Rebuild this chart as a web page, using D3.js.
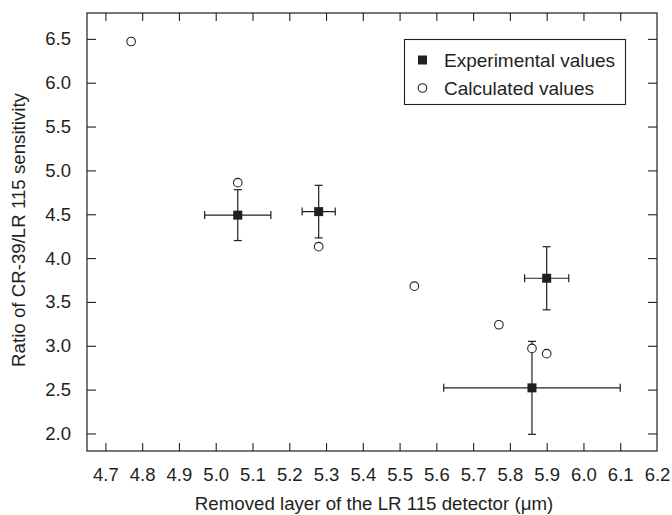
<!DOCTYPE html>
<html><head><meta charset="utf-8">
<script src="https://cdn.jsdelivr.net/npm/d3@7/dist/d3.min.js"></script>
<style>body{margin:0;background:#fff}svg{display:block}text{font-family:"Liberation Sans",Arial,sans-serif;fill:#231f20}</style>
</head><body><svg id="c" width="672" height="515"></svg>
<script>
const expX = [5.06, 5.28, 5.90, 5.86];
const expY = [4.49, 4.53, 3.77, 2.52];
const expXErr = [0.09, 0.045, 0.06, 0.24];
const expYErr = [0.29, 0.30, 0.36, 0.53];
const calcX = [4.77, 5.06, 5.28, 5.54, 5.77, 5.86, 5.90];
const calcY = [6.47, 4.86, 4.13, 3.68, 3.24, 2.97, 2.91];
const xTicks = [4.7,4.8,4.9,5.0,5.1,5.2,5.3,5.4,5.5,5.6,5.7,5.8,5.9,6.0,6.1,6.2];
const yTicks = [2.0,2.5,3.0,3.5,4.0,4.5,5.0,5.5,6.0,6.5];
const legendLabels = ["Experimental values", "Calculated values"];

const L=87,R=657,T=13,B=451;
const svg=d3.select("#c");
const x=d3.scaleLinear().domain([4.65,6.2]).range([L,R]);
const y=d3.scaleLinear().domain([1.8,6.795]).range([B,T]);
const ink="#231f20";

svg.append("rect").attr("x",L).attr("y",T).attr("width",R-L).attr("height",B-T)
  .attr("fill","none").attr("stroke",ink).attr("stroke-width",1.2);

const fmt=d3.format(".1f");
const gx=svg.append("g").attr("transform",`translate(0,${B})`)
  .call(d3.axisBottom(x).tickValues(xTicks).tickFormat(fmt).tickSizeInner(-8).tickSizeOuter(0).tickPadding(17));
const gxt=svg.append("g").attr("transform",`translate(0,${T})`)
  .call(d3.axisTop(x).tickValues(xTicks.filter(d=>d<6.2)).tickFormat("").tickSizeInner(-8).tickSizeOuter(0));
const gy=svg.append("g").attr("transform",`translate(${L},0)`)
  .call(d3.axisLeft(y).tickValues(yTicks).tickFormat(fmt).tickSizeInner(-9).tickSizeOuter(0).tickPadding(16));
const gyr=svg.append("g").attr("transform",`translate(${R},0)`)
  .call(d3.axisRight(y).tickValues(yTicks).tickFormat("").tickSizeInner(-9).tickSizeOuter(0));
[gx,gxt,gy,gyr].forEach(g=>{
  g.select(".domain").remove();
  g.selectAll(".tick line").attr("stroke",ink).attr("stroke-width",1.1);
  g.selectAll("text").attr("font-size",18.5).attr("fill",ink).attr("font-family","Liberation Sans, Arial, sans-serif");
});
gx.selectAll(".tick").filter(d=>d>6.15).select("line").remove();

svg.append("text").attr("x",374).attr("y",510).attr("text-anchor","middle").attr("font-size",18.7)
  .text("Removed layer of the LR 115 detector (\u03bcm)");
svg.append("text").attr("transform",`translate(25,230) rotate(-90)`).attr("text-anchor","middle").attr("font-size",18.7)
  .text("Ratio of CR-39/LR 115 sensitivity");

const eb=svg.append("g").attr("stroke",ink).attr("stroke-width",1.2).attr("fill","none");
const cap=4;
expX.forEach((xv,i)=>{
  const yv=expY[i], dx=expXErr[i], dy=expYErr[i];
  eb.append("line").attr("x1",x(xv-dx)).attr("x2",x(xv+dx)).attr("y1",y(yv)).attr("y2",y(yv));
  eb.append("line").attr("x1",x(xv-dx)).attr("x2",x(xv-dx)).attr("y1",y(yv)-cap).attr("y2",y(yv)+cap);
  eb.append("line").attr("x1",x(xv+dx)).attr("x2",x(xv+dx)).attr("y1",y(yv)-cap).attr("y2",y(yv)+cap);
  eb.append("line").attr("x1",x(xv)).attr("x2",x(xv)).attr("y1",y(yv-dy)).attr("y2",y(yv+dy));
  eb.append("line").attr("x1",x(xv)-cap).attr("x2",x(xv)+cap).attr("y1",y(yv-dy)).attr("y2",y(yv-dy));
  eb.append("line").attr("x1",x(xv)-cap).attr("x2",x(xv)+cap).attr("y1",y(yv+dy)).attr("y2",y(yv+dy));
});

svg.append("g").selectAll("circle").data(calcX).join("circle")
  .attr("cx",d=>x(d)).attr("cy",(d,i)=>y(calcY[i])).attr("r",4.3)
  .attr("fill","#fff").attr("stroke",ink).attr("stroke-width",1.1);

const s=9;
svg.append("g").selectAll("rect").data(expX).join("rect")
  .attr("x",d=>x(d)-s/2).attr("y",(d,i)=>y(expY[i])-s/2).attr("width",s).attr("height",s)
  .attr("fill",ink);

const lg=svg.append("g");
lg.append("rect").attr("x",404.5).attr("y",39.5).attr("width",221).attr("height",65)
  .attr("fill","#fff").attr("stroke",ink).attr("stroke-width",1.1);
lg.append("rect").attr("x",422.5-4.5).attr("y",60-4.5).attr("width",s).attr("height",s).attr("fill",ink);
lg.append("circle").attr("cx",422.5).attr("cy",88).attr("r",4.3).attr("fill","#fff").attr("stroke",ink).attr("stroke-width",1.1);
lg.append("text").attr("x",444).attr("y",67).attr("font-size",19).text(legendLabels[0]);
lg.append("text").attr("x",444).attr("y",95).attr("font-size",19).text(legendLabels[1]);
</script></body></html>
